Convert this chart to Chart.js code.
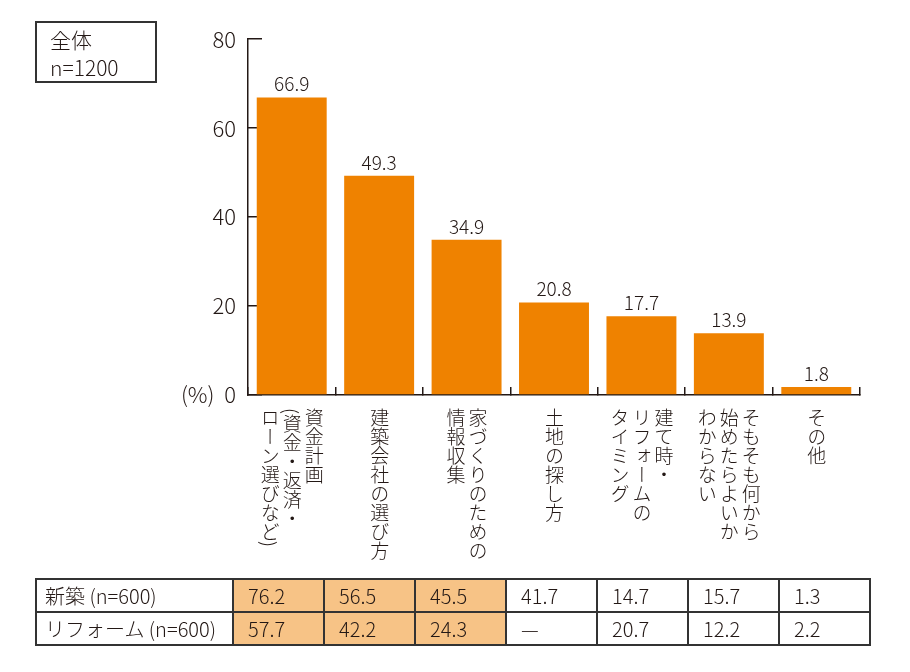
<!DOCTYPE html>
<html lang="ja">
<head>
<meta charset="utf-8">
<script src="https://cdn.jsdelivr.net/npm/chart.js@4/dist/chart.umd.min.js"></script>
<style>
  body { margin: 0; background: #fff; }
  #wrap { position: relative; width: 910px; height: 672px; color: #231815;
    font-family: "Noto Sans CJK JP", "Noto Sans", sans-serif; font-weight: 300; }
  #chart { position: absolute; left: 0; top: 0; }
  #box { position: absolute; left: 35px; top: 21px; width: 105px; height: 58px;
    border: 2px solid #333; font-size: 21px; line-height: 28px; padding: 2px 0 0 13px; box-sizing: content-box; height: 56px; }
  .vlabel { position: absolute; top: 408px; writing-mode: vertical-rl; font-size: 19px;
    line-height: 22px; white-space: nowrap; }
  #tbl { position: absolute; left: 35px; top: 578px; border-collapse: collapse; font-size: 20px; }
  #tbl td { border: 2px solid #333; height: 31px; padding: 0 0 0 14px; width: 75px; }
  #tbl td.head { width: 187px; padding-left: 8px; }
  #tbl td.hl { background: #f7c386; }
</style>
</head>
<body>
<div id="wrap">
  <canvas id="chart" width="910" height="672"></canvas>
  <div id="box">全体<br>n=1200</div>
  <table id="tbl"></table>
</div>
<script>
// categories (each entry = vertical columns, right to left)
const categories = [
  ['資金計画', '(資金・返済・', 'ローン選びなど)'],
  ['建築会社の選び方'],
  ['家づくりのための', '情報収集'],
  ['土地の探し方'],
  ['建て時・', 'リフォームの', 'タイミング'],
  ['そもそも何から', '始めたらよいか', 'わからない'],
  ['その他']
];
const values = [66.9, 49.3, 34.9, 20.8, 17.7, 13.9, 1.8];
const yTicks = [0, 20, 40, 60, 80];

// table below
const rowNames = ['新築 (n=600)', 'リフォーム (n=600)'];
const newBuild = ['76.2', '56.5', '45.5', '41.7', '14.7', '15.7', '1.3'];
const reform = ['57.7', '42.2', '24.3', '—', '20.7', '12.2', '2.2'];
const highlightCols = 3;

const FONT = '"Noto Sans CJK JP", "Noto Sans", sans-serif';
const INK = '#231815';
const ORANGE = '#ef8200';

// value labels over bars
const valueLabels = {
  id: 'valueLabels',
  afterDatasetsDraw(chart) {
    const ctx = chart.ctx;
    const meta = chart.getDatasetMeta(0);
    ctx.save();
    ctx.font = '300 19px ' + FONT;
    ctx.fillStyle = INK;
    ctx.textAlign = 'center';
    ctx.textBaseline = 'alphabetic';
    meta.data.forEach((bar, i) => {
      ctx.fillText(values[i].toFixed(1), bar.x, bar.y - 6);
    });
    ctx.restore();
  }
};

// vertical (tategaki) category labels placed at x scale positions
const verticalLabels = {
  id: 'verticalLabels',
  afterRender(chart) {
    if (chart._vDone) return;
    chart._vDone = true;
    const wrap = document.getElementById('wrap');
    const xs = chart.scales.x;
    categories.forEach((cols, i) => {
      const d = document.createElement('div');
      d.className = 'vlabel';
      d.innerHTML = cols.join('<br>');
      const w = cols.length * 22;
      d.style.left = (xs.getPixelForValue(i) - w / 2) + 'px';
      d.style.width = w + 'px';
      wrap.appendChild(d);
    });
  }
};

new Chart(document.getElementById('chart'), {
  type: 'bar',
  data: {
    labels: categories.map(c => c.join('')),
    datasets: [{
      data: values,
      backgroundColor: ORANGE,
      borderWidth: 0,
      barPercentage: 0.8,
      categoryPercentage: 1
    }]
  },
  options: {
    responsive: false,
    animation: false,
    layout: { padding: { top: 32, right: 50, left: 0, bottom: 0 } },
    plugins: { legend: { display: false }, tooltip: { enabled: false } },
    scales: {
      x: {
        ticks: { display: false },
        grid: { drawOnChartArea: false, tickLength: -8, color: INK, lineWidth: 1.5 },
        border: { color: INK, width: 1.5 },
        afterFit(s) { s.height = 672 - 395; }
      },
      y: {
        min: 0,
        max: 80,
        afterBuildTicks(s) { s.ticks = yTicks.map(v => ({ value: v })); },
        ticks: {
          padding: 26,
          color: INK,
          font: { family: FONT, size: 22, weight: '300' },
          callback: v => v === 0 ? '(%)  0' : String(v)
        },
        grid: { drawOnChartArea: false, tickLength: -14, color: INK, lineWidth: 1.5 },
        border: { color: INK, width: 1.5 },
        afterFit(s) { s.width = 248; }
      }
    }
  },
  plugins: [valueLabels, verticalLabels]
});

// build the table
const tbl = document.getElementById('tbl');
[newBuild, reform].forEach((row, r) => {
  const tr = document.createElement('tr');
  const th = document.createElement('td');
  th.className = 'head';
  th.textContent = rowNames[r];
  tr.appendChild(th);
  row.forEach((v, c) => {
    const td = document.createElement('td');
    if (c < highlightCols) td.className = 'hl';
    td.textContent = v;
    tr.appendChild(td);
  });
  tbl.appendChild(tr);
});
</script>
</body>
</html>
